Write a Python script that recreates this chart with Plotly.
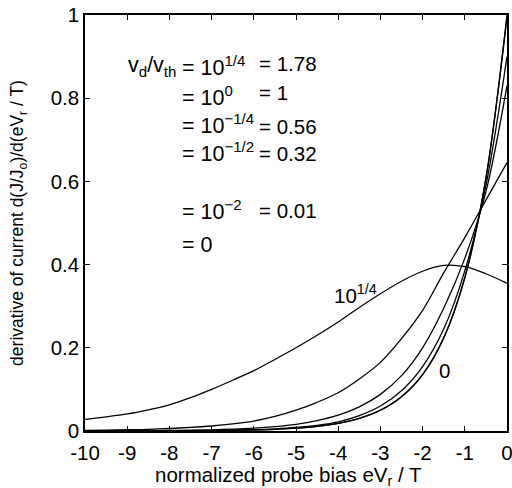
import plotly.graph_objects as go

# normalized probe bias eV_r / T
x_vals = [-10, -9.5, -9, -8.5, -8, -7.5, -7, -6.5, -6, -5.5, -5, -4.5, -4, -3.5, -3, -2.5, -2, -1.5, -1, -0.5, 0]

# derivative of current, one list per drift ratio v_d/v_th
y_178 = [0.028, 0.034, 0.041, 0.051, 0.063, 0.080, 0.100, 0.122, 0.145, 0.172, 0.200, 0.230, 0.262, 0.297, 0.330, 0.360, 0.384, 0.398, 0.395, 0.378, 0.355]
y_100 = [0.0015, 0.002, 0.003, 0.004, 0.006, 0.0085, 0.012, 0.017, 0.024, 0.035, 0.050, 0.069, 0.092, 0.125, 0.165, 0.222, 0.290, 0.380, 0.465, 0.555, 0.645]
y_056 = [0.0002, 0.0003, 0.0005, 0.0008, 0.0012, 0.0019, 0.0029, 0.0045, 0.0068, 0.0105, 0.016, 0.025, 0.038, 0.058, 0.088, 0.133, 0.200, 0.295, 0.415, 0.575, 0.830]
y_032 = [0.0001, 0.00013, 0.0002, 0.0003, 0.0005, 0.0008, 0.0013, 0.002, 0.0033, 0.0053, 0.0085, 0.0137, 0.022, 0.037, 0.060, 0.097, 0.155, 0.245, 0.385, 0.590, 0.900]
y_001 = [0.00005, 0.00008, 0.00012, 0.0002, 0.00034, 0.00055, 0.00092, 0.0015, 0.0025, 0.0041, 0.0068, 0.0112, 0.0185, 0.0304, 0.050, 0.0825, 0.136, 0.224, 0.369, 0.607, 0.995]
y_000 = [0.00005, 0.00008, 0.00012, 0.0002, 0.00034, 0.00055, 0.00091, 0.0015, 0.0025, 0.0041, 0.0067, 0.0111, 0.0183, 0.0302, 0.0498, 0.0821, 0.135, 0.223, 0.368, 0.607, 1.000]

series = [y_178, y_100, y_056, y_032, y_001, y_000]
names = ["1.78", "1", "0.56", "0.32", "0.01", "0"]

x_ticks = [-10, -9, -8, -7, -6, -5, -4, -3, -2, -1, 0]
x_tick_text = ["-10", "-9", "-8", "-7", "-6", "-5", "-4", "-3", "-2", "-1", "0"]
y_ticks = [0, 0.2, 0.4, 0.6, 0.8, 1]
y_tick_text = ["0", "0.2", "0.4", "0.6", "0.8", "1"]

FONT = "Liberation Sans, Arial, Helvetica, sans-serif"

fig = go.Figure()
for ys, nm in zip(series, names):
    fig.add_trace(go.Scatter(x=x_vals, y=ys, mode="lines", name=nm,
                             line=dict(color="black", width=1.3, shape="spline", smoothing=0.9),
                             showlegend=False, hoverinfo="skip"))

ann = []
def add(text, x, y, xanchor="left", size=20.5):
    ann.append(dict(text=text, x=x, y=y, xref="x", yref="y", xanchor=xanchor, yanchor="middle",
                    showarrow=False, font=dict(size=size, color="black", family=FONT)))

add("v<sub>d</sub>/v<sub>th</sub>", -7.8, 0.877, xanchor="right", size=21.5)
left_col = ["= 10<sup>1/4</sup>", "= 10<sup>0</sup>", "= 10<sup>−1/4</sup>",
            "= 10<sup>−1/2</sup>", "= 10<sup>−2</sup>", "= 0"]
left_y = [0.877, 0.805, 0.738, 0.671, 0.532, 0.448]
for t, yy in zip(left_col, left_y):
    add(t, -7.75, yy, size=21.5)
right_col = ["= 1.78", "= 1", "= 0.56", "= 0.32", "= 0.01"]
right_y = [0.884, 0.813, 0.733, 0.666, 0.529]
for t, yy in zip(right_col, right_y):
    add(t, -5.92, yy)

add("10<sup>1/4</sup>", -4.15, 0.33)
add("0", -1.49, 0.145, xanchor="center")

ann.append(dict(text="normalized probe bias eV<sub>r</sub> / T", x=0.482, y=-0.107, xref="paper", yref="paper",
                xanchor="center", yanchor="middle", showarrow=False,
                font=dict(size=20.5, color="black", family=FONT)))
ann.append(dict(text="derivative of current d(J/J<sub>o</sub>)/d(eV<sub>r</sub> / T)", x=-0.159, y=0.5,
                xref="paper", yref="paper", xanchor="center", yanchor="middle", textangle=-90,
                showarrow=False, font=dict(size=17.5, color="black", family=FONT)))

axis_common = dict(showline=True, linecolor="black", linewidth=1.5, mirror="ticks",
                   ticks="inside", ticklen=5, tickwidth=1, tickcolor="black",
                   showgrid=False, zeroline=False, automargin=False,
                   ticklabeloverflow="allow",
                   tickfont=dict(size=20.5, color="black", family=FONT))

fig.update_layout(
    width=512, height=488,
    margin=dict(l=85, r=5, t=15, b=57),
    paper_bgcolor="white", plot_bgcolor="white",
    xaxis=dict(range=[-10, 0], tickvals=x_ticks, ticktext=x_tick_text, ticklabelstandoff=3, **axis_common),
    yaxis=dict(range=[0, 1], tickvals=y_ticks, ticktext=y_tick_text, **axis_common),
    annotations=ann,
)

# remove the default 8 px page margin so the figure fills the window exactly
fig.write_html("out.html", config={"displayModeBar": False},
               post_script="document.body.style.margin='0px';")
